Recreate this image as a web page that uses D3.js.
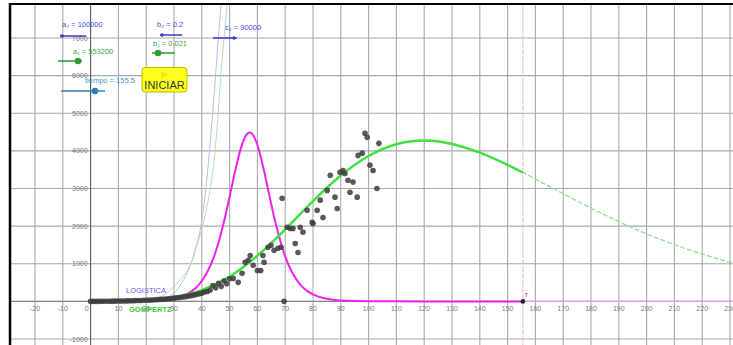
<!DOCTYPE html>
<html>
<head>
<meta charset="utf-8">
<script src="https://cdn.jsdelivr.net/npm/d3@7/dist/d3.min.js"></script>
<style>
  html, body { margin: 0; padding: 0; background: #fff; overflow: hidden; }
  svg { display: block; font-family: "Liberation Sans", Arial, sans-serif; }
</style>
</head>
<body>
<svg id="chart" width="733" height="345"></svg>
<script>
// ---- data ----
const xTickValues = [-20, -10, 0, 10, 20, 30, 40, 50, 60, 70, 80, 90, 100, 110, 120, 130, 140, 150, 160, 170, 180, 190, 200, 210, 220, 230];
const yTickValues = [-1000, 0, 1000, 2000, 3000, 4000, 5000, 6000, 7000];

const tiempo = 155.5;

// observed daily cases (scatter)
const obsDays = [0, 1, 2, 3, 4, 5, 6, 7, 8, 9, 10, 11, 12, 13, 14, 15, 16, 17, 18, 19, 20, 21, 22, 23, 24, 25, 26, 27, 28, 29,
  30, 31, 32, 33, 34, 35, 36, 37, 38, 39, 40, 41, 42, 43, 44, 45, 46, 47, 48, 49, 50,
  51.3, 53.1, 54.5, 55.6, 56.7, 57.4, 58.5, 60, 61.2, 62, 62.4, 63.8, 64.9, 66, 67.4, 68.5, 68.9, 69.6,
  70.7, 71.8, 72.8, 73.6, 74.6, 75.4, 76.4, 77.9, 79.7, 80, 81.5, 82.6, 83.6, 85.1, 86.2, 87.9, 88.7, 89.7,
  90.8, 91.5, 92.6, 93.3, 94.4, 95.9, 96.2, 97.7, 98.7, 99.5, 100.5, 101.6, 103, 103.7];
const obsCases = [0, 0, 1, 1, 2, 3, 3, 4, 6, 7, 8, 10, 11, 13, 15, 17, 19, 22, 25, 28, 30, 34, 38, 42, 47, 52, 57, 63, 70, 78,
  86, 95, 104, 115, 126, 138, 152, 166, 182, 200, 218, 250, 262, 300, 420, 360, 480, 400, 540, 470, 600,
  610, 505, 745, 1040, 1090, 1220, 960, 820, 820, 1220, 1040, 1440, 1490, 1360, 1410, 1440, 2740, 0,
  1970, 1940, 1940, 1540, 1300, 1970, 1840, 2420, 2100, 2070, 2420, 2690, 2230, 2950, 3350, 2770, 2470, 3430,
  3480, 3400, 3220, 2900, 3170, 2770, 3880, 3940, 4470, 4360, 3620, 3480, 3000, 4200];

// logistic model, daily (magenta)
const logisticDays = [0, 10, 20, 30, 34, 38, 40, 42, 44, 46, 48, 50, 52, 54, 56, 57.2, 58, 60, 62, 64, 66, 68, 70, 72, 74, 76, 78, 80, 84, 88, 92, 100, 120, 160, 200, 240];
const logisticDaily = [0, 1, 10, 77, 171, 371, 541, 786, 1116, 1560, 2127, 2781, 3465, 4060, 4426, 4490, 4461, 4155, 3596, 2919, 2245, 1673, 1196, 841, 584, 399, 272, 184, 84, 38, 17, 3, 0, 0, 0, 0];

// gompertz model, daily (green)
const gompertzDays = [0, 10, 20, 30, 40, 50, 60, 70, 80, 90, 100, 110, 120, 130, 140, 150, 160, 170, 180, 190, 200, 210, 220, 230, 240];
const gompertzDaily = [1, 5, 27, 104, 295, 657, 1213, 1914, 2663, 3345, 3864, 4176, 4274, 4185, 3955, 3628, 3252, 2860, 2477, 2119, 1794, 1507, 1257, 1043, 860];

// cumulative curves, leaving the top of the view (faint)
const logisticCumDays = [0, 20, 25, 30, 32.2, 35, 37.6, 40, 41.2, 43.7, 45.9, 46.9, 48];
const logisticCumCases = [0, 20, 60, 220, 426, 800, 1356, 2150, 2819, 4814, 6941, 7872, 9000];
const gompertzCumDays = [0, 15, 21.4, 28.6, 32, 35.8, 38.5, 41.2, 44.8, 47.3, 49.1, 50.5];
const gompertzCumCases = [0, 5, 27, 293, 560, 957, 1550, 2287, 4016, 6410, 7872, 9000];

// sliders
const sliderNames = ['a₂', 'b₂', 'c₂', 'a₁', 'b₁', 'tiempo'];
const sliderValues = ['100000', '0.2', '90000', '553200', '0.021', '155.5'];

// ---- layout ----
const W = 733, H = 345;
const x = d3.scaleLinear().domain([-20, 230]).range([35, 730]);
const y = d3.scaleLinear().domain([-1000, 7000]).range([339, 38]);

const svg = d3.select('#chart');
svg.append('rect').attr('width', W).attr('height', H).attr('fill', '#fff');

svg.append('defs').call(defs => {
  defs.append('clipPath').attr('id', 'view')
    .append('rect').attr('x', 11).attr('y', 5).attr('width', W - 11).attr('height', H - 5);
  defs.append('clipPath').attr('id', 'beforeT')
    .append('rect').attr('x', 11).attr('y', 5).attr('width', x(tiempo) - 11).attr('height', H - 5);
  defs.append('clipPath').attr('id', 'afterT')
    .append('rect').attr('x', x(tiempo)).attr('y', 5).attr('width', W - x(tiempo)).attr('height', H - 5);
});

const plot = svg.append('g').attr('clip-path', 'url(#view)');

// grid
plot.append('g').selectAll('line').data(xTickValues).join('line')
  .attr('x1', d => x(d)).attr('x2', d => x(d)).attr('y1', 0).attr('y2', H)
  .attr('stroke', '#a9a9a9').attr('stroke-width', 1.1);
plot.append('g').selectAll('line').data(yTickValues).join('line')
  .attr('x1', 0).attr('x2', W).attr('y1', d => y(d)).attr('y2', d => y(d))
  .attr('stroke', '#a9a9a9').attr('stroke-width', 1.1);

// axes
plot.append('line').attr('x1', 0).attr('x2', W).attr('y1', y(0)).attr('y2', y(0))
  .attr('stroke', '#808080');
plot.append('line').attr('x1', x(0)).attr('x2', x(0)).attr('y1', 0).attr('y2', H)
  .attr('stroke', '#5a5a5a');

// tick labels
plot.append('g').selectAll('text').data(xTickValues.filter(d => d !== 0)).join('text')
  .attr('x', d => x(d)).attr('y', y(0) + 10)
  .attr('text-anchor', 'middle').attr('font-size', 7).attr('fill', '#7a7a7a')
  .text(d => d);
plot.append('text').attr('x', x(0) - 2).attr('y', y(0) + 10)
  .attr('text-anchor', 'end').attr('font-size', 7).attr('fill', '#7a7a7a').text('0');
plot.append('g').selectAll('text').data(yTickValues.filter(d => d !== 0)).join('text')
  .attr('x', x(0) - 3).attr('y', d => y(d) + 2.5)
  .attr('text-anchor', 'end').attr('font-size', 7).attr('fill', '#7a7a7a')
  .text(d => d);

const line = (xs, ys, curve) => d3.line().curve(curve || d3.curveMonotoneX)
  .x((d, i) => x(xs[i])).y((d, i) => y(ys[i]))(xs);

// faint cumulative curves
plot.append('path').attr('d', line(logisticCumDays, logisticCumCases))
  .attr('fill', 'none').attr('stroke', '#b4bfe6').attr('stroke-width', 1);
plot.append('path').attr('d', line(gompertzCumDays, gompertzCumCases))
  .attr('fill', 'none').attr('stroke', '#b3dcbd').attr('stroke-width', 1);

// vertical line at tiempo
plot.append('line').attr('x1', x(tiempo)).attr('x2', x(tiempo)).attr('y1', 0).attr('y2', H)
  .attr('stroke', '#f5b3cc').attr('stroke-width', 1).attr('stroke-dasharray', '6 1');

// logistic daily: thick up to tiempo, thin after
plot.append('path').attr('d', line(logisticDays, logisticDaily))
  .attr('clip-path', 'url(#afterT)')
  .attr('fill', 'none').attr('stroke', '#f0a0f0').attr('stroke-width', 1);
plot.append('path').attr('d', line(logisticDays, logisticDaily))
  .attr('clip-path', 'url(#beforeT)')
  .attr('fill', 'none').attr('stroke', '#ee22ee').attr('stroke-width', 2);

// gompertz daily: thick up to tiempo, dashed after
const gPath = line(gompertzDays, gompertzDaily, d3.curveNatural);
plot.append('path').attr('d', gPath)
  .attr('clip-path', 'url(#afterT)')
  .attr('fill', 'none').attr('stroke', '#8fe08f').attr('stroke-width', 1.3)
  .attr('stroke-dasharray', '5 2');
plot.append('path').attr('d', gPath)
  .attr('clip-path', 'url(#beforeT)')
  .attr('fill', 'none').attr('stroke', '#3ee23e').attr('stroke-width', 2.5);

// observed points
plot.append('g').selectAll('circle').data(obsDays).join('circle')
  .attr('cx', d => x(d)).attr('cy', (d, i) => y(obsCases[i])).attr('r', 2.8)
  .attr('fill', '#3c3c3c').attr('fill-opacity', 0.85);

// T point
plot.append('circle').attr('cx', x(tiempo)).attr('cy', y(0)).attr('r', 2.3).attr('fill', '#222');
plot.append('text').attr('x', x(tiempo) + 1.5).attr('y', y(0) - 4)
  .attr('font-size', 6).attr('fill', '#555').text('T');

// curve labels
plot.append('text').attr('x', 126).attr('y', 293).attr('font-size', 7.5).attr('fill', '#6a5ae8')
  .text('LOGISTICA');
plot.append('text').attr('x', 129).attr('y', 312).attr('font-size', 7.5).attr('fill', '#3ec63e')
  .attr('font-weight', 'bold').text('GOMPERTZ');

// sliders
const sliderLayout = [
  { lx: 62, ly: 27, x1: 60, x2: 86, sy: 36, dot: 62, text: '#4a4ae0', line: '#3a3ad0', r: 1.8 },
  { lx: 157, ly: 27, x1: 160, x2: 182, sy: 35, dot: 162, text: '#4a4ae0', line: '#3a3ad0', r: 1.8 },
  { lx: 225, ly: 30, x1: 213, x2: 237, sy: 38, dot: 234, text: '#4a4ae0', line: '#3a3ad0', r: 1.8 },
  { lx: 73, ly: 54, x1: 58, x2: 82, sy: 61, dot: 78, text: '#3fa53f', line: '#2f9a2f', r: 3.3 },
  { lx: 153, ly: 46, x1: 152, x2: 175, sy: 53, dot: 158, text: '#3fa53f', line: '#2f9a2f', r: 3.3 },
  { lx: 85, ly: 83, x1: 61, x2: 105, sy: 91, dot: 95, text: '#3a95c8', line: '#2f7fb5', r: 3.3 }
];
const sl = svg.append('g').selectAll('g').data(sliderLayout).join('g');
sl.append('line').attr('x1', d => d.x1).attr('x2', d => d.x2).attr('y1', d => d.sy).attr('y2', d => d.sy)
  .attr('stroke', d => d.line).attr('stroke-width', 1.5);
sl.append('circle').attr('cx', d => d.dot).attr('cy', d => d.sy).attr('r', d => d.r)
  .attr('fill', d => d.line);
sl.append('text').attr('x', d => d.lx).attr('y', d => d.ly).attr('font-size', 7.5)
  .attr('fill', d => d.text)
  .text((d, i) => `${sliderNames[i]} = ${sliderValues[i]}`);

// INICIAR button
const btn = svg.append('g');
btn.append('rect').attr('x', 142).attr('y', 67.5).attr('width', 45).attr('height', 24.5).attr('rx', 3)
  .attr('fill', '#ffff1e').attr('stroke', '#c8b400').attr('stroke-width', 1);
btn.append('text').attr('x', 164.5).attr('y', 76).attr('text-anchor', 'middle')
  .attr('font-size', 6).attr('fill', '#b0a000').text('▷');
btn.append('text').attr('x', 164.5).attr('y', 88.5).attr('text-anchor', 'middle')
  .attr('font-size', 11).attr('fill', '#333').text('INICIAR');

// frame
svg.append('line').attr('x1', 9).attr('x2', W).attr('y1', 4).attr('y2', 4)
  .attr('stroke', '#000').attr('stroke-width', 2);
svg.append('line').attr('x1', 10).attr('x2', 10).attr('y1', 3).attr('y2', H)
  .attr('stroke', '#000').attr('stroke-width', 2.5);
</script>
</body>
</html>
